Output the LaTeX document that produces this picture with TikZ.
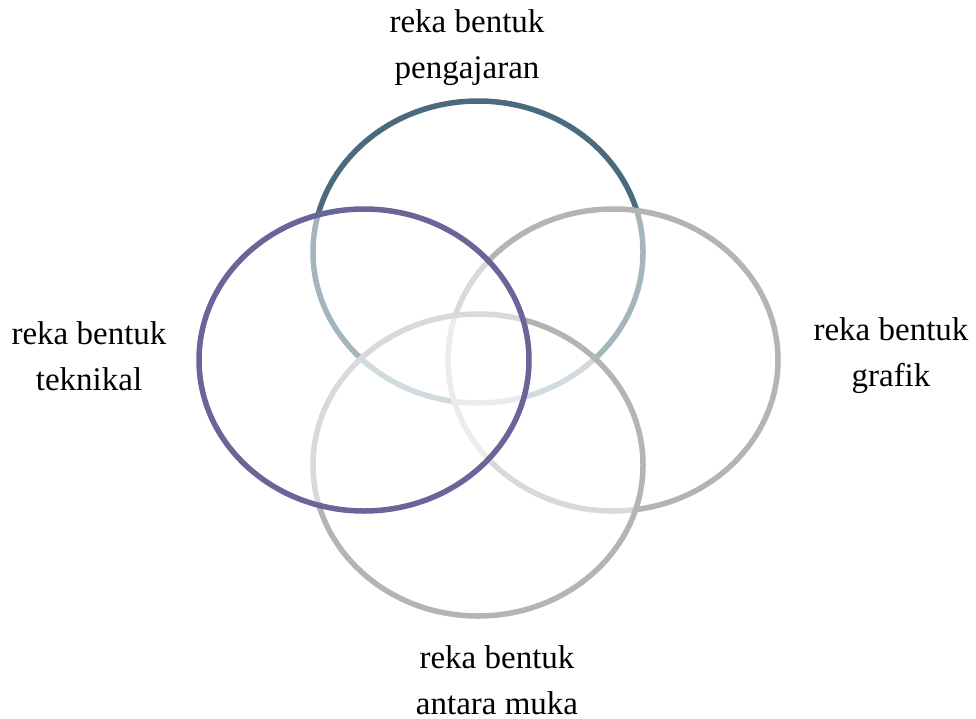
\documentclass[tikz,border=0pt]{standalone}
\usepackage{fontspec}
\setmainfont{Liberation Serif}
\usetikzlibrary{shapes}
\definecolor{tealgrey}{RGB}{74,107,126}
\definecolor{violet}{RGB}{104,102,153}
\definecolor{ashgrey}{RGB}{180,180,180}

\begin{document}
\begin{tikzpicture}[x=1pt,y=-1pt]
\tikzstyle{ring} =[ellipse,line width=5.5pt,fill=white,fill opacity=0.5,minimum width=330pt,minimum height=302pt,inner sep=0pt]
\tikzstyle{lbl} =[align=center,inner sep=1pt,font=\fontsize{33}{46}\selectfont]
\useasboundingbox (0,0) rectangle (976,718);

% rings, back to front
\node[ring,draw=tealgrey](pengajaran) at (478,252){};
\node[ring,draw=ashgrey](grafik) at (613,360){};
\node[ring,draw=ashgrey](antaramuka) at (478,465){};
\node[ring,draw=violet](teknikal) at (364,360){};

% labels
\node[lbl](lblPengajaran) at (467,48){reka bentuk\\pengajaran};
\node[lbl](lblTeknikal) at (89,356){reka bentuk\\teknikal};
\node[lbl](lblGrafik) at (891,356){reka bentuk\\grafik};
\node[lbl](lblAntaramuka) at (497,680){reka bentuk\\antara muka};
\end{tikzpicture}
\end{document}
